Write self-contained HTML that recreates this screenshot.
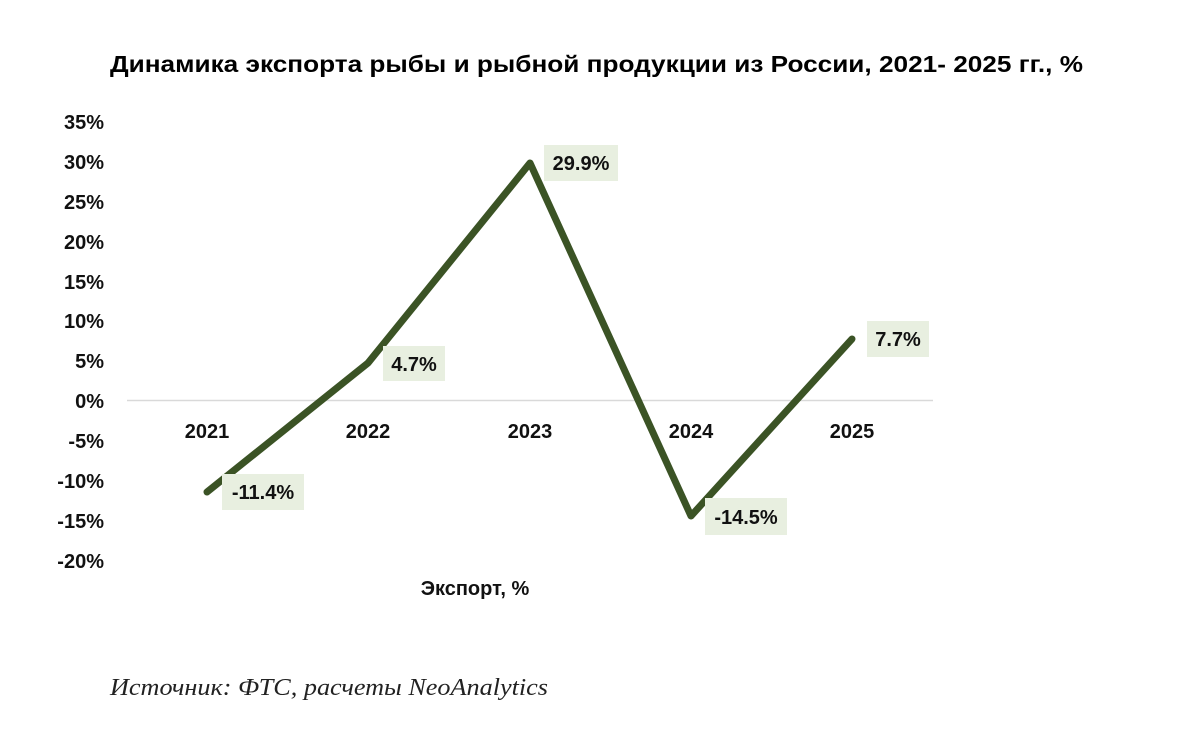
<!DOCTYPE html>
<html>
<head>
<meta charset="utf-8">
<style>
html,body{margin:0;padding:0;background:#fff;}
svg{display:block;}
text{font-family:"Liberation Sans",Arial,sans-serif;}
</style>
</head>
<body>
<svg width="1200" height="737" viewBox="0 0 1200 737" xmlns="http://www.w3.org/2000/svg">
<rect width="1200" height="737" fill="#fff"/>
<text x="110" y="72" font-size="23" font-weight="bold" fill="#000" textLength="973" lengthAdjust="spacingAndGlyphs">Динамика экспорта рыбы и рыбной продукции из России, 2021- 2025 гг., %</text>

<g font-size="20" font-weight="bold" fill="#111" text-anchor="end">
<text x="104" y="129">35%</text>
<text x="104" y="169">30%</text>
<text x="104" y="209">25%</text>
<text x="104" y="249">20%</text>
<text x="104" y="289">15%</text>
<text x="104" y="328">10%</text>
<text x="104" y="368">5%</text>
<text x="104" y="408">0%</text>
<text x="104" y="448">-5%</text>
<text x="104" y="488">-10%</text>
<text x="104" y="528">-15%</text>
<text x="104" y="568">-20%</text>
</g>

<line x1="127" y1="400.5" x2="933" y2="400.5" stroke="#d9d9d9" stroke-width="1.5"/>

<g font-size="20" font-weight="bold" fill="#111" text-anchor="middle">
<text x="207" y="438">2021</text>
<text x="368" y="438">2022</text>
<text x="530" y="438">2023</text>
<text x="691" y="438">2024</text>
<text x="852" y="438">2025</text>
</g>

<polyline points="207,492 368,363 530,163 691,516 852,339" fill="none" stroke="#3b5325" stroke-width="7" stroke-linejoin="round" stroke-linecap="round"/>

<g fill="#e8efe0">
<rect x="222" y="474" width="82" height="36"/>
<rect x="383" y="346" width="62" height="35"/>
<rect x="544" y="145" width="74" height="36"/>
<rect x="705" y="498" width="82" height="37"/>
<rect x="867" y="321" width="62" height="36"/>
</g>
<g font-size="20" font-weight="bold" fill="#111" text-anchor="middle">
<text x="263" y="499">-11.4%</text>
<text x="414" y="371">4.7%</text>
<text x="581" y="170">29.9%</text>
<text x="746" y="524">-14.5%</text>
<text x="898" y="346">7.7%</text>
</g>

<text x="475" y="595" font-size="20" font-weight="bold" fill="#111" text-anchor="middle">Экспорт, %</text>

<text x="110" y="695" font-style="italic" font-size="24" fill="#222" textLength="438" lengthAdjust="spacingAndGlyphs" style="font-family:'Liberation Serif',serif">Источник: ФТС, расчеты NeoAnalytics</text>
</svg>
</body>
</html>
